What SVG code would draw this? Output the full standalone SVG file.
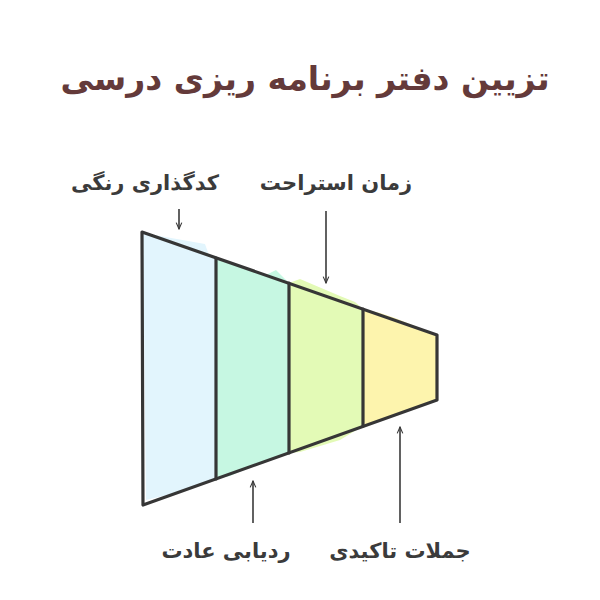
<svg xmlns="http://www.w3.org/2000/svg" width="600" height="600" viewBox="0 0 600 600">
<style>
.title{font-family:"DejaVu Sans",sans-serif;font-weight:bold;font-size:33px;fill:#643a3a;text-anchor:middle}
.lbl{font-family:"DejaVu Sans",sans-serif;font-weight:bold;font-size:21px;fill:#3b3b3b;text-anchor:middle}
.out{fill:none;stroke:#363636;stroke-width:3.2;stroke-linejoin:round;stroke-linecap:round}
.arr{fill:none;stroke:#3a3a3a;stroke-width:1.6}
</style>
<defs>
<marker id="ah" viewBox="0 0 10 10" refX="9" refY="5" markerWidth="8" markerHeight="8" orient="auto" markerUnits="userSpaceOnUse">
<path d="M1,1.5 L9,5 L1,8.5" fill="none" stroke="#3a3a3a" stroke-width="1.4"/>
</marker>
</defs>
<rect width="600" height="600" fill="#ffffff"/>
<text class="title" x="305" y="90" direction="rtl">تزیین دفتر برنامه ریزی درسی</text>
<g id="fills">
<polygon points="143,233 205,244 210,258 216,258 216,479 180,492 146,500" fill="#e2f5fd"/>
<polygon points="216,258 266,275 276,270 289,283 289,453 262,462 230,476 216,479" fill="#c6f7e2"/>
<polygon points="289,283 300,279 340,296 355,302 363,309 363,426 340,440 300,452 289,453" fill="#e3fab6"/>
<polygon points="363,309 380,313 395,318 437,335 437,400 400,414 372,424 363,426" fill="#fdf4ad"/>
</g>
<g id="funnel">
<polygon class="out" points="142,232 437,335 437,400 143,505"/>
<line class="out" x1="216" y1="258" x2="216" y2="479"/>
<line class="out" x1="289" y1="283" x2="289" y2="453"/>
<line class="out" x1="363" y1="309" x2="363" y2="426"/>
</g>
<g id="n1"><text class="lbl" x="145" y="190" direction="rtl">کدگذاری رنگی</text></g>
<g id="n2"><text class="lbl" x="336" y="190" direction="rtl">زمان استراحت</text></g>
<g id="n3"><text class="lbl" x="226" y="558" direction="rtl">ردیابی عادت</text></g>
<g id="n4"><text class="lbl" x="400" y="558" direction="rtl">جملات تاکیدی</text></g>
<g id="connectors">
<line class="arr" x1="179" y1="209" x2="179" y2="229" marker-end="url(#ah)"/>
<line class="arr" x1="326" y1="211" x2="326" y2="283" marker-end="url(#ah)"/>
<line class="arr" x1="253" y1="523" x2="253" y2="481" marker-end="url(#ah)"/>
<line class="arr" x1="400" y1="523" x2="400" y2="427" marker-end="url(#ah)"/>
</g>
</svg>
